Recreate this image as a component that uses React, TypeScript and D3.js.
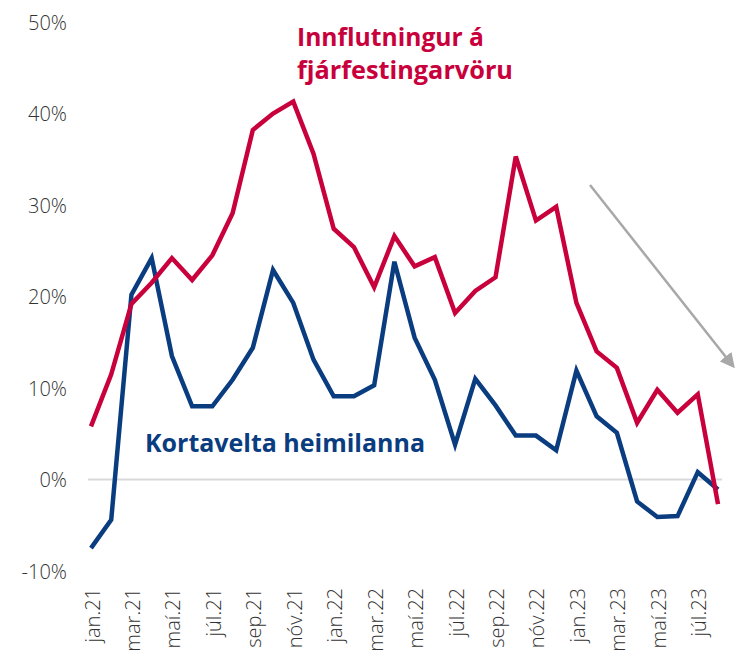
import React from "react";
import * as d3 from "d3";

const months = [
  "jan.21","feb.21","mar.21","apr.21","maí.21","jún.21","júl.21","ágú.21","sep.21","okt.21","nóv.21","des.21",
  "jan.22","feb.22","mar.22","apr.22","maí.22","jún.22","júl.22","ágú.22","sep.22","okt.22","nóv.22","des.22",
  "jan.23","feb.23","mar.23","apr.23","maí.23","jún.23","júl.23","ágú.23",
];

const investmentGoodsImports = [
  5.8, 11.5, 19.2, 21.5, 24.2, 21.8, 24.5, 29.1, 38.2, 40.0, 41.3, 35.6,
  27.4, 25.4, 21.0, 26.6, 23.3, 24.3, 18.2, 20.6, 22.1, 35.3, 28.3, 29.8,
  19.3, 14.0, 12.2, 6.2, 9.8, 7.3, 9.3, -2.7,
];

const householdCardTurnover = [
  -7.5, -4.4, 20.2, 24.2, 13.5, 8.0, 8.0, 10.9, 14.4, 22.9, 19.3, 13.1,
  9.1, 9.1, 10.3, 23.8, 15.5, 10.9, 3.8, 11.0, 8.1, 4.8, 4.8, 3.2,
  11.9, 6.9, 5.1, -2.4, -4.1, -4.0, 0.8, -1.1,
];

const yTicks = [-10, 0, 10, 20, 30, 40, 50];
const xTickLabels = months.filter((_, i) => i % 2 === 0);

const W = 738;
const H = 655;

export default function App() {
  const x = d3.scalePoint<string>().domain(months).range([91, 718]);
  const y = d3.scaleLinear().domain([-10, 50]).range([571, 22]);

  const line = d3
    .line<number>()
    .x((_, i) => x(months[i]) as number)
    .y((d) => y(d))
    .curve(d3.curveLinear);

  const red = "#c8003c";
  const blue = "#0a3c80";

  return (
    <svg
      width={W}
      height={H}
      style={{ position: "absolute", left: 0, top: 0, background: "#fff" }}
      fontFamily="'Open Sans', sans-serif"
    >
      <defs>
        <marker
          id="arrowhead"
          viewBox="0 0 10 10"
          refX="8"
          refY="5"
          markerWidth="6"
          markerHeight="6"
          orient="auto"
          markerUnits="strokeWidth"
        >
          <path d="M0,0 L10,5 L0,10 z" fill="#a8a8a8" />
        </marker>
      </defs>

      {/* zero line */}
      <line x1={88} x2={722} y1={y(0)} y2={y(0)} stroke="#d9d9d9" strokeWidth={2} />

      {/* y tick labels */}
      {yTicks.map((t) => (
        <text
          key={t}
          x={67}
          y={y(t)}
          textAnchor="end"
          dominantBaseline="central"
          fontSize={20}
          fontWeight={300}
          fill="#333"
        >
          {`${t}%`}
        </text>
      ))}

      {/* x tick labels */}
      {xTickLabels.map((m) => (
        <text
          key={m}
          transform={`translate(${(x(m) as number) + 1},588) rotate(-90)`}
          textAnchor="end"
          dominantBaseline="central"
          fontSize={20}
          fontWeight={300}
          fill="#333"
        >
          {m}
        </text>
      ))}

      {/* arrow */}
      <line
        x1={590}
        y1={185}
        x2={733}
        y2={366}
        stroke="#a8a8a8"
        strokeWidth={2.5}
        markerEnd="url(#arrowhead)"
      />

      {/* series */}
      <path
        d={line(householdCardTurnover) || ""}
        fill="none"
        stroke={blue}
        strokeWidth={4.5}
        strokeLinejoin="miter"
      />
      <path
        d={line(investmentGoodsImports) || ""}
        fill="none"
        stroke={red}
        strokeWidth={4.5}
        strokeLinejoin="miter"
      />

      {/* labels */}
      <text x={297} y={46} fontSize={25} fontWeight={700} fill={red} textLength={187} lengthAdjust="spacingAndGlyphs">
        Innflutningur á
      </text>
      <text x={297} y={79} fontSize={25} fontWeight={700} fill={red} textLength={216} lengthAdjust="spacingAndGlyphs">
        fjárfestingarvöru
      </text>
      <text x={145} y={452} fontSize={25} fontWeight={700} fill={blue} textLength={280} lengthAdjust="spacingAndGlyphs">
        Kortavelta heimilanna
      </text>
    </svg>
  );
}
